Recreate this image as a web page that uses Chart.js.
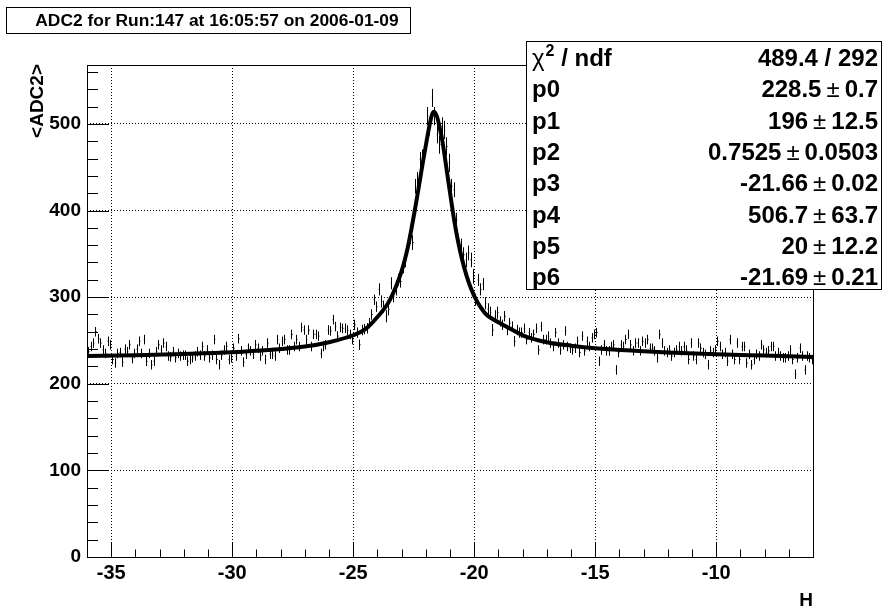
<!DOCTYPE html>
<html>
<head>
<meta charset="utf-8">
<script src="https://cdn.jsdelivr.net/npm/chart.js@4.4.0/dist/chart.umd.min.js"></script>
<style>
  html, body { margin: 0; padding: 0; background: #fff; }
  #wrap { width: 891px; height: 612px; }
</style>
</head>
<body>
<div id="wrap"><canvas id="c" width="891" height="612"></canvas></div>
<script>
// histogram: 300 bins of 0.1 from -36 to -6
const binStart = -36;
const binWidth = 0.1;
const adcValues = [
  237, 243, 247, 260, 252, 247, 239, 235, 249, 245,
  228, 224, 235, 236, 225, 240, 237, 245, 229, 235,
  240, 249, 235, 251, 226, 235, 222, 226, 237, 245,
  239, 247, 243, 232, 231, 237, 230, 235, 232, 233,
  233, 226, 228, 230, 232, 237, 233, 243, 232, 239,
  230, 233, 251, 228, 222, 233, 239, 243, 228, 230,
  241, 232, 252, 238, 225, 234, 241, 238, 234, 245,
  241, 232, 238, 228, 247, 234, 234, 232, 251, 241,
  249, 251, 239, 239, 257, 243, 251, 243, 265, 262,
  251, 262, 243, 257, 257, 255, 235, 243, 245, 262,
  261, 274, 266, 255, 265, 264, 264, 262, 257, 251,
  268, 259, 245, 262, 263, 264, 270, 280, 297, 289,
  309, 295, 289, 278, 286, 316, 301, 309, 320, 318,
  336, 343, 363, 370, 363, 428, 436, 459, 462, 474,
  509, 497, 530, 509, 488, 476, 497, 493, 474, 455,
  428, 424, 389, 363, 359, 349, 343, 351, 343, 324,
  297, 320, 309, 315, 293, 286, 282, 262, 278, 282,
  272, 268, 278, 262, 270, 266, 249, 262, 259, 259,
  264, 251, 259, 253, 257, 264, 239, 266, 251, 251,
  255, 247, 243, 259, 247, 239, 245, 261, 243, 241,
  239, 241, 249, 236, 255, 238, 249, 243, 253, 257,
  259, 226, 239, 245, 238, 238, 243, 245, 216, 236,
  245, 243, 251, 257, 245, 238, 247, 247, 238, 249,
  247, 251, 241, 241, 238, 230, 257, 247, 238, 236,
  239, 232, 236, 239, 243, 238, 243, 239, 228, 247,
  232, 228, 247, 241, 236, 234, 222, 238, 236, 239,
  249, 243, 234, 236, 226, 251, 234, 228, 247, 228,
  243, 243, 224, 234, 222, 228, 234, 232, 245, 239,
  236, 238, 243, 243, 232, 236, 232, 230, 230, 232,
  239, 228, 211, 230, 241, 232, 216, 232, 230, 228
];
// error bar half-size, one value per 1-unit block of 10 bins
const errPerUnit = [
  5.5, 5.5, 5.5, 5.5, 5.5, 5.5, 5.5, 5.5, 5.5, 5.5,
  5.5, 6, 7, 8.5, 10.5, 8.5, 7, 6, 5.5, 5.5,
  5.5, 5.5, 5.5, 5.5, 5.5, 5.5, 5.5, 5.5, 5.5, 5.5
];

// fit curve
const fitX = [-36, -34, -32, -30, -28.5, -27, -26, -25, -24.5, -24, -23.5, -23, -22.74, -22.4, -22.05,
  -21.75, -21.66, -21.36, -21.08, -20.81, -20.53, -20.12, -19.57, -19, -18.61, -17.92, -17, -16, -15,
  -13, -12, -10, -8, -6];
const fitY = [232, 233, 234.5, 236.5, 239, 243, 248, 256, 263, 277, 296, 330, 358, 409, 467,
  510, 514, 487, 436, 386, 347, 309, 282, 271, 265, 255, 248, 244, 241,
  237.5, 236, 234, 232.5, 231];

const xTicks = [-35, -30, -25, -20, -15, -10];
const yTicks = [0, 100, 200, 300, 400, 500];

const titleText = "ADC2 for Run:147 at 16:05:57 on 2006-01-09";
const statNames = ["p0", "p1", "p2", "p3", "p4", "p5", "p6"];
const statVals = ["228.5", "196", "0.7525", "-21.66", "506.7", "20", "-21.69"];
const statErrs = ["0.7", "12.5", "0.0503", "0.02", "63.7", "12.2", "0.21"];
const chi2Text = "489.4 / 292";

const FONT = "'Liberation Sans', Arial, Helvetica, sans-serif";

const points = adcValues.map((v, i) => ({
  x: binStart + (i + 0.5) * binWidth,
  y: v,
  err: errPerUnit[Math.floor(i / 10)]
}));
const fitPoints = fitX.map((x, i) => ({ x: x, y: fitY[i] }));

const rootDecor = {
  id: 'rootDecor',
  beforeDatasetsDraw(chart) {
    // vertical error bars
    const { ctx, scales: { x, y } } = chart;
    ctx.save();
    ctx.strokeStyle = '#000';
    ctx.lineWidth = 1;
    ctx.beginPath();
    points.forEach(p => {
      const px = Math.round(x.getPixelForValue(p.x)) + 0.5;
      ctx.moveTo(px, y.getPixelForValue(p.y - p.err));
      ctx.lineTo(px, y.getPixelForValue(p.y + p.err));
    });
    ctx.stroke();
    ctx.restore();
  },
  afterDraw(chart) {
    const { ctx, chartArea: a, scales: { x, y } } = chart;
    ctx.save();
    ctx.strokeStyle = '#000';
    ctx.lineWidth = 1;

    // frame
    ctx.strokeRect(Math.round(a.left) + 0.5, Math.round(a.top) + 0.5,
      Math.round(a.right - a.left), Math.round(a.bottom - a.top));

    // inward ticks
    ctx.beginPath();
    for (let t = -36; t <= -6; t++) {
      const px = Math.round(x.getPixelForValue(t)) + 0.5;
      const len = (t % 5 === 0) ? 15 : 7.5;
      ctx.moveTo(px, a.bottom);
      ctx.lineTo(px, a.bottom - len);
    }
    for (let t = 0; t <= 560; t += 20) {
      const py = Math.round(y.getPixelForValue(t)) + 0.5;
      const len = (t % 100 === 0) ? 22 : 11;
      ctx.moveTo(a.left, py);
      ctx.lineTo(a.left + len, py);
    }
    ctx.stroke();

    // axis titles
    ctx.fillStyle = '#000';
    ctx.font = "bold 19px " + FONT;
    ctx.textAlign = 'right';
    ctx.textBaseline = 'alphabetic';
    ctx.fillText("H", a.right, 606);
    ctx.save();
    ctx.translate(43, a.top - 1);
    ctx.rotate(-Math.PI / 2);
    ctx.fillText("<ADC2>", 0, 0);
    ctx.restore();

    // title box
    ctx.fillStyle = '#fff';
    ctx.fillRect(6.5, 7.5, 404, 26);
    ctx.strokeRect(6.5, 7.5, 404, 26);
    ctx.fillStyle = '#000';
    ctx.font = "bold 17.4px " + FONT;
    ctx.textAlign = 'center';
    ctx.textBaseline = 'middle';
    ctx.fillText(titleText, 217, 21);

    // stats box
    const bx = 526.5, by = 41.5, bw = 355, bh = 248;
    ctx.fillStyle = '#fff';
    ctx.fillRect(bx, by, bw, bh);
    ctx.strokeRect(bx, by, bw, bh);
    ctx.fillStyle = '#000';
    ctx.textBaseline = 'alphabetic';
    const rowH = 31.3;
    const base0 = 66;
    const right = 878;
    const left = 532;
    const bold = "bold 24px " + FONT;
    const plain = "24px " + FONT;

    // chi2 row
    ctx.textAlign = 'left';
    ctx.font = plain;
    ctx.fillText("\u03C7", left, base0);
    let cx = left + ctx.measureText("\u03C7").width + 1;
    ctx.font = "bold 16px " + FONT;
    ctx.fillText("2", cx, base0 - 10);
    cx += ctx.measureText("2").width;
    ctx.font = bold;
    ctx.fillText(" / ndf", cx, base0);
    ctx.textAlign = 'right';
    ctx.fillText(chi2Text, right, base0);

    statNames.forEach((n, i) => {
      const yy = base0 + rowH * (i + 1);
      ctx.textAlign = 'left';
      ctx.font = bold;
      ctx.fillText(n, left, yy);
      ctx.textAlign = 'right';
      ctx.fillText(statErrs[i], right, yy);
      let rx = right - ctx.measureText(statErrs[i]).width - 5;
      ctx.font = plain;
      ctx.fillText("\u00B1", rx, yy);
      rx -= ctx.measureText("\u00B1").width + 5;
      ctx.font = bold;
      ctx.fillText(statVals[i], rx, yy);
    });
    ctx.restore();
  }
};

new Chart(document.getElementById('c'), {
  type: 'scatter',
  data: {
    datasets: [
      {
        label: 'ADC2',
        data: points,
        pointStyle: 'dash',
        pointRadius: 1.3,
        pointBorderWidth: 1,
        pointBorderColor: '#000',
        pointBackgroundColor: '#000',
        showLine: false
      },
      {
        label: 'fit',
        data: fitPoints,
        showLine: true,
        pointRadius: 0,
        borderColor: '#000',
        borderWidth: 4,
        cubicInterpolationMode: 'monotone',
        fill: false
      }
    ]
  },
  plugins: [rootDecor],
  options: {
    responsive: false,
    devicePixelRatio: 1,
    animation: false,
    layout: { padding: { left: 0, right: 78, top: 65, bottom: 0 } },
    plugins: { legend: { display: false }, tooltip: { enabled: false } },
    scales: {
      x: {
        type: 'linear',
        min: -36,
        max: -6,
        afterFit: s => { s.height = 55; },
        afterBuildTicks: s => { s.ticks = xTicks.map(v => ({ value: v })); },
        ticks: {
          includeBounds: false,
          color: '#000',
          padding: 4,
          maxRotation: 0,
          autoSkip: false,
          font: { family: FONT, weight: 'bold', size: 20 }
        },
        grid: { color: '#000', lineWidth: 1, drawTicks: false },
        border: { display: false, dash: [1, 2] }
      },
      y: {
        type: 'linear',
        min: 0,
        max: 568,
        afterFit: s => { s.width = 87; },
        afterBuildTicks: s => { s.ticks = yTicks.map(v => ({ value: v })); },
        ticks: {
          includeBounds: false,
          color: '#000',
          padding: 6,
          autoSkip: false,
          font: { family: FONT, weight: 'bold', size: 19 }
        },
        grid: { color: '#000', lineWidth: 1, drawTicks: false },
        border: { display: false, dash: [1, 2] }
      }
    }
  }
});
</script>
</body>
</html>
